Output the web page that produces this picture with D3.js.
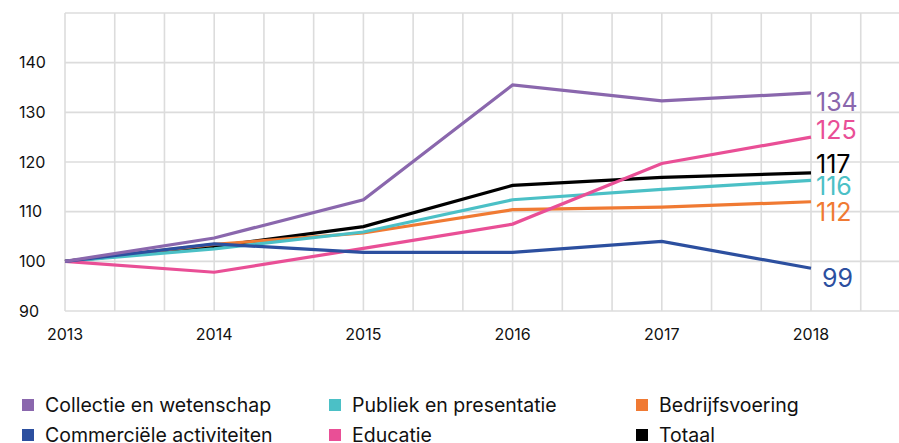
<!DOCTYPE html>
<html><head><meta charset="utf-8">
<script src="https://cdn.jsdelivr.net/npm/d3@7"></script>
<style>body{margin:0;background:#fff}svg{display:block;font-family:Inter,"Noto Sans",sans-serif}</style>
</head><body><svg id="c" width="899" height="443"></svg>
<script>
const years = [2013, 2014, 2015, 2016, 2017, 2018];
const seriesNames = ["Collectie en wetenschap", "Publiek en presentatie", "Bedrijfsvoering", "Commerciële activiteiten", "Educatie", "Totaal"];
const seriesColors = ["#8a67ad", "#4bc0c6", "#f07a33", "#2c4f9f", "#e94f96", "#000000"];
const collectie = [100, 104.7, 112.4, 135.5, 132.3, 133.9];
const publiek = [100, 102.5, 105.9, 112.4, 114.5, 116.3];
const bedrijf = [100, 103.4, 105.7, 110.4, 110.9, 112.0];
const commercieel = [100, 103.5, 101.8, 101.8, 104.0, 98.6];
const educatie = [100, 97.8, 102.6, 107.5, 119.7, 125.0];
const totaal = [100, 103.0, 107.0, 115.3, 116.9, 117.8];
const endLabels = ["134", "116", "112", "99", "125", "117"];
const yTicks = [90, 100, 110, 120, 130, 140];
const labelDy = [18, 15, 19, 19, 2, 0];
const labelDx = [5, 5, 5, 11, 5, 5];
const values = [collectie, publiek, bedrijf, commercieel, educatie, totaal];
const drawOrder = [5, 2, 1, 4, 3, 0];

const svg = d3.select("#c");
const x = d3.scaleLinear().domain([2013, 2018]).range([65, 811]);
const y = d3.scaleLinear().domain([90, 150]).range([311, 13]);

// grid
const g = svg.append("g");
const vg = d3.range(0, 16.5, 1).map(i => 2013 + i / 3);
g.selectAll(".vg").data(vg).join("line")
  .attr("x1", d => x(d)).attr("x2", d => x(d)).attr("y1", y(150)).attr("y2", y(90))
  .attr("stroke", "#dcdcdc").attr("stroke-width", 1.6);
g.selectAll(".hg").data(d3.range(90, 151, 10)).join("line")
  .attr("x1", x(2013)).attr("x2", 899).attr("y1", d => y(d)).attr("y2", d => y(d))
  .attr("stroke", "#dcdcdc").attr("stroke-width", 1.6);

// y tick labels
svg.append("g").selectAll("text").data(yTicks).join("text")
  .attr("x", 19).attr("y", d => y(d)).attr("dy", "0.35em")
  .attr("font-size", 16).attr("fill", "#111").text(d => d);
// x tick labels
svg.append("g").selectAll("text").data(years).join("text")
  .attr("x", d => x(d)).attr("y", 340).attr("text-anchor", "middle")
  .attr("font-size", 16).attr("fill", "#111").text(d => d);

const line = d3.line().x((d, i) => x(years[i])).y(d => y(d));
drawOrder.forEach(k => {
  svg.append("path").datum(values[k]).attr("d", line)
    .attr("fill", "none").attr("stroke", seriesColors[k]).attr("stroke-width", 3.2)
    .attr("stroke-linejoin", "miter");
});
values.forEach((v, k) => {
  svg.append("text").attr("x", x(2018) + labelDx[k]).attr("y", y(v[5]) + labelDy[k])
    .attr("font-size", 25).attr("fill", seriesColors[k]).text(endLabels[k]);
});

// legend
const legOrder = [0, 1, 2, 3, 4, 5];
const colX = [22, 329, 636];
legOrder.forEach((k, i) => {
  const cx = colX[i % 3], ry = 399 + Math.floor(i / 3) * 30;
  svg.append("rect").attr("x", cx).attr("y", ry).attr("width", 12).attr("height", 12).attr("fill", seriesColors[k]);
  svg.append("text").attr("x", cx + 23).attr("y", ry + 13).attr("font-size", 19.5).attr("fill", "#111").text(seriesNames[k]);
});
</script></body></html>
